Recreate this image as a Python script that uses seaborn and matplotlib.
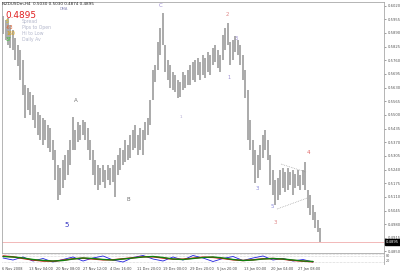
import numpy as np
import pandas as pd
import matplotlib
matplotlib.use("Agg")
import matplotlib.pyplot as plt
import matplotlib.transforms as mtransforms
import seaborn as sns

# ---------------- data ----------------
high = [0.5971, 0.5952, 0.5961, 0.5928, 0.5904, 0.5866, 0.5833, 0.5809, 0.5761, 0.5642,
        0.5628, 0.5609, 0.5595, 0.5547, 0.5514, 0.5500, 0.5485, 0.5476, 0.5452, 0.5438,
        0.5381, 0.5333, 0.5262, 0.5247, 0.5285, 0.5309, 0.5333, 0.5381, 0.5490, 0.5428,
        0.5466, 0.5452, 0.5476, 0.5466, 0.5438, 0.5381, 0.5333, 0.5285, 0.5262, 0.5247,
        0.5262, 0.5238, 0.5262, 0.5247, 0.5262, 0.5285, 0.5309, 0.5343, 0.5333, 0.5381,
        0.5357, 0.5404, 0.5428, 0.5452, 0.5404, 0.5438, 0.5428, 0.5466, 0.5485, 0.5571,
        0.5714, 0.5738, 0.5847, 0.5914, 0.5985, 0.5833, 0.5761, 0.5738, 0.5704, 0.5690,
        0.5666, 0.5657, 0.5704, 0.5690, 0.5714, 0.5738, 0.5752, 0.5761, 0.5771, 0.5752,
        0.5785, 0.5771, 0.5800, 0.5785, 0.5819, 0.5833, 0.5809, 0.5785, 0.5880, 0.5914,
        0.5938, 0.5847, 0.5857, 0.5876, 0.5857, 0.5833, 0.5785, 0.5714, 0.5619, 0.5476,
        0.5381, 0.5333, 0.5309, 0.5357, 0.5404, 0.5428, 0.5381, 0.5309, 0.5238, 0.5190,
        0.5200, 0.5238, 0.5247, 0.5228, 0.5247, 0.5228, 0.5238, 0.5219, 0.5238, 0.5214,
        0.5238, 0.5276, 0.5143, 0.5119, 0.5071, 0.5038, 0.5000, 0.4962]
low = [0.5885, 0.5857, 0.5833, 0.5819, 0.5809, 0.5761, 0.5733, 0.5666, 0.5595, 0.5485,
       0.5523, 0.5500, 0.5476, 0.5438, 0.5404, 0.5381, 0.5357, 0.5381, 0.5343, 0.5324,
       0.5285, 0.5190, 0.5095, 0.5119, 0.5152, 0.5190, 0.5214, 0.5262, 0.5333, 0.5333,
       0.5371, 0.5381, 0.5404, 0.5381, 0.5333, 0.5285, 0.5214, 0.5166, 0.5143, 0.5166,
       0.5181, 0.5152, 0.5190, 0.5166, 0.5181, 0.5109, 0.5214, 0.5238, 0.5262, 0.5276,
       0.5285, 0.5295, 0.5333, 0.5343, 0.5309, 0.5333, 0.5309, 0.5381, 0.5404, 0.5452,
       0.5571, 0.5657, 0.5714, 0.5785, 0.5833, 0.5704, 0.5666, 0.5628, 0.5619, 0.5609,
       0.5580, 0.5585, 0.5619, 0.5628, 0.5642, 0.5642, 0.5666, 0.5657, 0.5690, 0.5666,
       0.5690, 0.5676, 0.5704, 0.5690, 0.5738, 0.5752, 0.5723, 0.5704, 0.5761, 0.5809,
       0.5833, 0.5738, 0.5761, 0.5800, 0.5785, 0.5738, 0.5666, 0.5580, 0.5381, 0.5333,
       0.5262, 0.5176, 0.5200, 0.5238, 0.5295, 0.5333, 0.5285, 0.5166, 0.5119, 0.5071,
       0.5095, 0.5119, 0.5152, 0.5133, 0.5143, 0.5166, 0.5119, 0.5152, 0.5162, 0.5143,
       0.5166, 0.5143, 0.5057, 0.5024, 0.5000, 0.4962, 0.4943, 0.4895]

current_price = 0.4895
price_ticks = [0.4850, 0.4915, 0.4980, 0.5045, 0.5110, 0.5175, 0.5240, 0.5305, 0.5370,
               0.5435, 0.5500, 0.5565, 0.5630, 0.5695, 0.5760, 0.5825, 0.5890, 0.5955, 0.6020]

date_labels = ["6 Nov 2008", "13 Nov 04:00", "20 Nov 08:00", "27 Nov 12:00", "4 Dec 16:00",
               "11 Dec 20:00", "19 Dec 00:00", "29 Dec 20:00", "5 Jan 20:00", "13 Jan 00:00",
               "20 Jan 04:00", "27 Jan 08:00"]
date_bars = [-0.4, 10.4, 21.2, 32.0, 42.8, 53.6, 64.0, 74.8, 85.6, 96.4, 107.2, 118.0]

# wave labels: text, bar, price, colour
wave_text = ["C", "2", "3", "1", "1", "A", "B", "5", "3", "5", "3", "4"]
wave_bar = [63.2, 89.6, 93.4, 90.4, 71.2, 29.2, 50.0, 25.6, 101.6, 107.6, 108.8, 122.0]
wave_price = [0.6023, 0.5980, 0.5866, 0.5680, 0.5490, 0.5571, 0.5095, 0.4976, 0.5152, 0.5062, 0.4986, 0.5319]
wave_color = ["#9a8ad0", "#e08a8a", "#9a8ad0", "#9a8ad0", "#b0a8d0", "#707070", "#707070",
              "#3030c0", "#8a8ad8", "#8a8ad8", "#e08a8a", "#e06060"]
wave_size = [4, 4, 3.5, 3.5, 3, 4, 4, 5, 4, 4, 4, 4]

tri_upper_bar = [111.2, 121.2]
tri_upper_price = [0.5266, 0.5228]
tri_lower_bar = [109.6, 121.6]
tri_lower_price = [0.5052, 0.5104]

# indicator (0-100 oscillator)
ind_bar = list(range(0, 128, 4))
ind_green = [75, 70, 60, 45, 35, 30, 35, 50, 60, 55, 45, 40, 50, 60, 70, 75,
             65, 50, 45, 55, 65, 70, 60, 45, 35, 40, 50, 55, 50, 40, 30, 25]
ind_red = [80, 72, 55, 40, 30, 28, 38, 52, 58, 50, 42, 42, 52, 62, 72, 72,
           60, 48, 48, 58, 68, 66, 55, 42, 35, 42, 52, 55, 48, 36, 28, 22]
ind_blue = [60, 40, 70, 30, 55, 20, 45, 70, 30, 60, 80, 40, 20, 65, 85, 50,
            30, 70, 40, 85, 60, 25, 55, 75, 35, 60, 80, 40, 55, 30, 45, 20]

# ---------------- figure ----------------
sns.set_style("white")
plt.rcParams['font.family'] = ['DejaVu Sans']

W, H = 400, 271
fig = plt.figure(figsize=(4.0, 2.71), dpi=100)
fig.patch.set_facecolor("white")

def fx(px):
    return px / W

def fy(py):
    return 1 - py / H

ax = fig.add_axes([fx(2), fy(253), fx(384) - fx(2), fy(2) - fy(253)])
ax.set_facecolor("white")
bars = np.arange(len(high))
ax.vlines(bars, low, high, color="#a4a4a4", linewidth=1.3)

ax.set_xlim(-0.4, 152.4)
ax.set_ylim(0.48427, 0.60375)

ax.axhline(current_price, color="#f2b8b8", linewidth=0.7, zorder=0)

ax.plot(tri_upper_bar, tri_upper_price, linestyle=(0, (1, 1.5)), color="#909090", linewidth=0.5)
ax.plot(tri_lower_bar, tri_lower_price, linestyle=(0, (1, 1.5)), color="#909090", linewidth=0.5)

for t, b, p, c, s in zip(wave_text, wave_bar, wave_price, wave_color, wave_size):
    ax.text(b, p, t, color=c, fontsize=s, ha="center", va="center")

ax.yaxis.tick_right()
ax.set_yticks(price_ticks)
ax.set_yticklabels([f"{v:.4f}" for v in price_ticks])
ax.tick_params(axis="y", labelsize=2.7, length=1.5, width=0.4, pad=1, colors="#555555")
ax.set_xticks([])
for sp in ax.spines.values():
    sp.set_color("#a8a8a8")
    sp.set_linewidth(0.6)

trans = mtransforms.blended_transform_factory(ax.transAxes, ax.transData)
ax.text(1.004, current_price, f"{current_price:.4f}", transform=trans, fontsize=2.7,
        color="white", va="center", ha="left", clip_on=False, zorder=10,
        bbox=dict(boxstyle="square,pad=0.25", fc="black", ec="black"))

# ---------------- indicator ----------------
axi = fig.add_axes([fx(2), fy(264), fx(384) - fx(2), fy(254) - fy(264)])
axi.set_facecolor("white")
df = pd.DataFrame({"bar": ind_bar, "green": ind_green, "red": ind_red, "blue": ind_blue})
sns.lineplot(data=df, x="bar", y="blue", color="#2020e0", linewidth=0.6, ax=axi)
sns.lineplot(data=df, x="bar", y="red", color="#e01010", linewidth=1.0, ax=axi)
sns.lineplot(data=df, x="bar", y="green", color="#108010", linewidth=1.0, ax=axi)
axi.set_xlim(-0.4, 152.4)
axi.set_ylim(0, 100)
for lv in (0, 20, 80, 100):
    axi.axhline(lv, color="#b0b0b0", linestyle=(0, (1, 1.5)), linewidth=0.4, zorder=0)
axi.set_xlabel("")
axi.set_ylabel("")
axi.set_yticks([])
axi.set_xticks(date_bars)
axi.set_xticklabels(date_labels, ha="left")
axi.tick_params(axis="x", labelsize=2.55, length=1.5, width=0.4, pad=0.8, colors="#555555")
for lbl in axi.get_xticklabels():
    lbl.set_color("#444444")
for sp in axi.spines.values():
    sp.set_visible(False)
axi.spines["right"].set_visible(True)
axi.spines["right"].set_color("#a8a8a8")
axi.spines["right"].set_linewidth(0.6)
fig.text(fx(386), fy(256), "80", fontsize=2.4, color="#555555", va="center")
fig.text(fx(386), fy(261), "20", fontsize=2.4, color="#555555", va="center")

# ---------------- header texts ----------------
fig.text(fx(2), fy(4), "NZDUSDm,H4  0.5030 0.5030 0.4874 0.4895", fontsize=3.0, color="#222222", va="center")
fig.text(fx(60), fy(9), "DMA", fontsize=2.6, color="#8a8ab8", va="center")
fig.text(fx(5), fy(15), "0.4895", fontsize=6.4, color="#e02020", va="center")
info_vals = ["5", "-63", "160", "37"]
info_cols = ["#e8c800", "#e06030", "#e0a000", "#30c030"]
info_txt = ["Spread", "Pips to Open", "Hi to Low", "Daily Av"]
for k, (v, c, t) in enumerate(zip(info_vals, info_cols, info_txt)):
    yy = 21 + 6.3 * k
    fig.text(fx(6), fy(yy), v, fontsize=3.3, color=c, va="center")
    fig.text(fx(22), fy(yy), t, fontsize=3.3, color="#b4b8cc", va="center")

fig.savefig("out.png", dpi=100, facecolor="white")
